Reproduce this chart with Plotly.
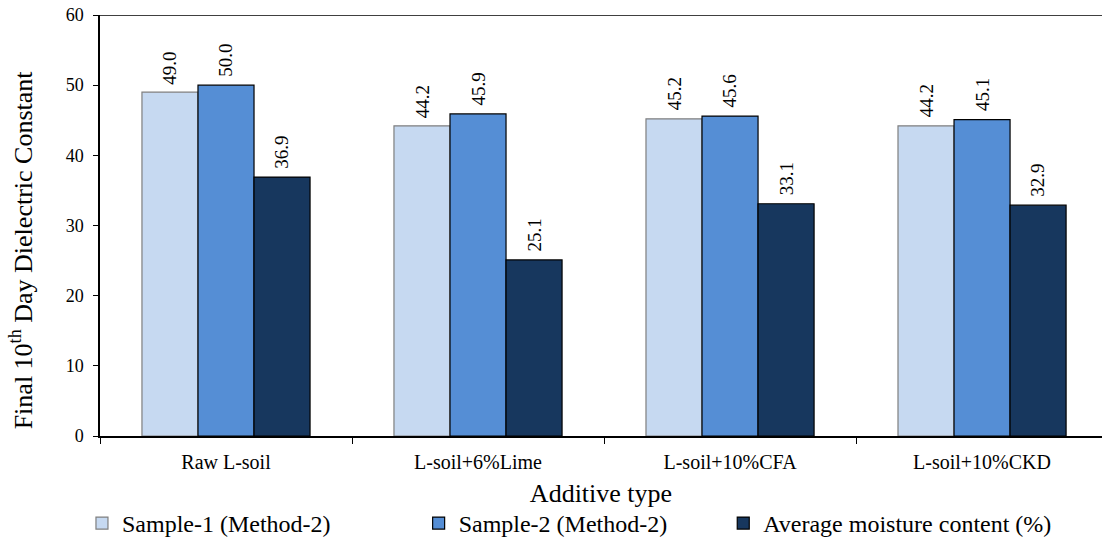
import plotly.graph_objects as go

categories = ["Raw L-soil", "L-soil+6%Lime", "L-soil+10%CFA", "L-soil+10%CKD"]
sample1 = [49.0, 44.2, 45.2, 44.2]
sample2 = [50.0, 45.9, 45.6, 45.1]
moisture = [36.9, 25.1, 33.1, 32.9]
series_names = ["Sample-1 (Method-2)", "Sample-2 (Method-2)", "Average moisture content (%)"]
colors = ["#C6D9F1", "#558ED5", "#17375E"]
outlines = ["#7F7F7F", "#000000", "#000000"]
y_ticks = [0, 10, 20, 30, 40, 50, 60]

font_family = "Liberation Serif"
bargap = 0.333
legend_ids = ["legend", "legend2", "legend3"]
legend_x = [-0.018, 0.318, 0.622]

fig = go.Figure()
all_series = [sample1, sample2, moisture]
for name, vals, c, oc, lid in zip(series_names, all_series, colors, outlines, legend_ids):
    fig.add_trace(go.Bar(
        x=categories, y=vals, name=name, legend=lid,
        marker=dict(color=c, line=dict(color=oc, width=1.2)),
    ))

# value labels above bars (positioned via the axis scale)
n = len(all_series)
bw = (1 - bargap) / n
for k, vals in enumerate(all_series):
    off = (k - (n - 1) / 2) * bw
    for i, v in enumerate(vals):
        fig.add_annotation(
            x=i + off, y=v, xref="x", yref="y",
            text=f"{v:.1f}", textangle=-90, showarrow=False,
            xanchor="center", yanchor="bottom", yshift=6,
            font=dict(family=font_family, size=19, color="#000"),
        )

# y-axis title
fig.add_annotation(
    text="Final 10<sup>th</sup> Day Dielectric Constant",
    xref="paper", yref="paper", x=-0.078, y=0.443,
    xanchor="center", yanchor="middle", textangle=-90, showarrow=False,
    font=dict(family=font_family, size=26, color="#000"),
)

legend_common = dict(
    orientation="h", xanchor="left", y=-0.2085, yanchor="middle",
    font=dict(family=font_family, size=24, color="#000"),
    bgcolor="rgba(0,0,0,0)",
)
fig.update_layout(
    width=1102, height=546,
    margin=dict(l=100, r=0, t=15, b=109),
    barmode="group", bargap=bargap, bargroupgap=0,
    plot_bgcolor="white", paper_bgcolor="white",
    font=dict(family=font_family, color="#000"),
    legend=dict(x=legend_x[0], **legend_common),
    legend2=dict(x=legend_x[1], **legend_common),
    legend3=dict(x=legend_x[2], **legend_common),
    showlegend=True,
)
fig.update_xaxes(
    range=[-0.5, 3.476], automargin=False,
    showline=True, linecolor="#000", linewidth=1.5,
    ticks="outside", tickson="boundaries", ticklen=6, tickcolor="#000",
    tickfont=dict(family=font_family, size=20, color="#000"),
    ticklabelstandoff=7,
    title=dict(text="Additive type", font=dict(family=font_family, size=26, color="#000"), standoff=12),
    showgrid=False,
)
fig.update_yaxes(
    range=[0, 60], tickvals=y_ticks, automargin=False,
    showline=True, linecolor="#000", linewidth=1.5,
    ticks="outside", ticklen=5, tickcolor="#000",
    tickfont=dict(family=font_family, size=18, color="#000"),
    ticklabelstandoff=6, ticklabeloverflow="allow",
    showgrid=False, zeroline=False,
)
fig.add_shape(type="line", xref="paper", yref="y", x0=0, x1=1, y0=60, y1=60,
              line=dict(color="#000", width=1.5))

fig.write_html("out.html", config={"displayModeBar": False},
               post_script="document.body.style.margin='0';")
